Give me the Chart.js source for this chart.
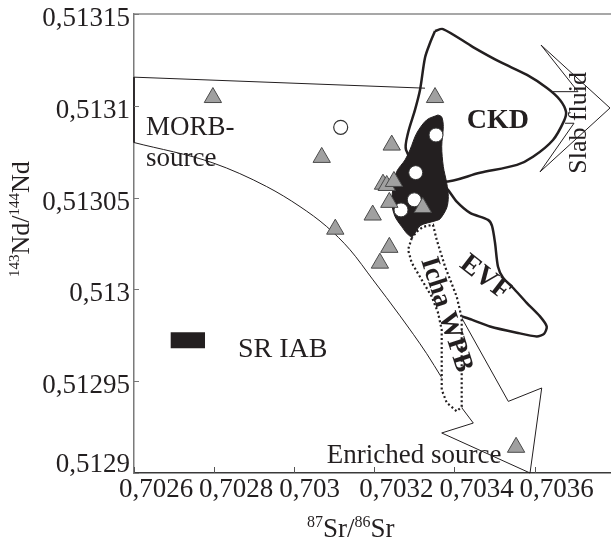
<!DOCTYPE html>
<html lang="en">
<head>
  <meta charset="UTF-8" />
  <title>Sr-Nd isotope diagram</title>
  <script src="https://cdn.jsdelivr.net/npm/chart.js"></script>
  <style>
    html, body { margin: 0; padding: 0; background: #fff; overflow: hidden; }
    #wrap { position: relative; width: 611px; height: 549px; }
  </style>
</head>
<body>
  <div id="wrap"><canvas id="chart"></canvas></div>

  <script>
    // axis ticks
    const xTicks = [0.7026, 0.7028, 0.7030, 0.7032, 0.7034, 0.7036];
    const xTickLabels = ['0,7026', '0,7028', '0,703', '0,7032', '0,7034', '0,7036'];
    const yTicks = [0.51290, 0.51295, 0.51300, 0.51305, 0.51310, 0.51315];
    const yTickLabels = ['0,5129', '0,51295', '0,513', '0,51305', '0,5131', '0,51315'];

    // samples (grey triangles)
    const triSr = [0.702797, 0.7033516, 0.7030687, 0.7032435, 0.7032217, 0.703231, 0.703249,
                   0.7032375, 0.703196, 0.703321, 0.7031026, 0.7032375, 0.703214, 0.703554];
    const triNd = [0.5131045, 0.5131045, 0.5130719, 0.5130786, 0.5130573, 0.5130566, 0.5130588,
                   0.5130474, 0.5130405, 0.5130446, 0.5130328, 0.5130229, 0.5130143, 0.512914];
    // open circle
    const openSr = [0.7031161];
    const openNd = [0.5130883];
    // white circles inside SR IAB field
    const whiteSr = [0.703354, 0.7033034, 0.7032999, 0.7032667];
    const whiteNd = [0.5130841, 0.5130636, 0.5130488, 0.5130433];

    // fields and arrows, [Sr, Nd]
    const morbTop = [[0.7033266, 0.5131096], [0.7026, 0.5131156], [0.7026, 0.51308]];
    const morbCurve = [[0.7026, 0.51308], [0.702797, 0.5130689], [0.7029313, 0.513056], [0.7030145, 0.5130451],
                       [0.7030812, 0.5130342], [0.7031393, 0.5130216], [0.7031968, 0.5130052],
                       [0.7032642, 0.5129856], [0.7033308, 0.512965], [0.7033683, 0.5129519]];
    const enrichedArrow = [[0.7034182, 0.5129356], [0.7034472, 0.5129272], [0.7033683, 0.5129218],
                           [0.7035888, 0.51290], [0.703618, 0.5129463], [0.7035346, 0.512939],
                           [0.7034182, 0.5129845]];
    const slabArrow = [[0.703643, 0.5131077], [0.7037086, 0.5131077], [0.7036162, 0.5131331],
                       [0.7037885, 0.5130988], [0.7036137, 0.513064], [0.7036986, 0.5130905],
                       [0.7036762, 0.5130905]];
    const ckdField = [[0.7033516, 0.5131407], [0.7033715, 0.5131418], [0.7034465, 0.513132], [0.7035139, 0.5131239],
                      [0.7035813, 0.5131168], [0.7036312, 0.5131097], [0.7036637, 0.5131032], [0.7036787, 0.5130967],
                      [0.7036737, 0.5130918], [0.7036462, 0.5130814], [0.7035963, 0.5130722], [0.7035563, 0.5130678],
                      [0.7034639, 0.5130635], [0.7033715, 0.5130586], [0.7033141, 0.5130651], [0.7032792, 0.513076],
                      [0.7032842, 0.5130852], [0.7033016, 0.5130978], [0.7033141, 0.5131086], [0.7033266, 0.5131262],
                      [0.7033391, 0.5131342], [0.7033516, 0.5131407]];
    const evfField = [[0.7033683, 0.5130579], [0.703384, 0.5130542], [0.7034057, 0.5130478], [0.703439, 0.5130417],
                      [0.7034839, 0.5130379], [0.7034939, 0.5130346], [0.7035014, 0.5130254], [0.7035089, 0.5130123],
                      [0.7035214, 0.5130063], [0.7035463, 0.5130009], [0.7035805, 0.5129927], [0.7036137, 0.5129853],
                      [0.7036305, 0.5129798], [0.7036237, 0.5129758], [0.7036055, 0.5129744], [0.7035556, 0.5129764],
                      [0.7034889, 0.5129798], [0.7034432, 0.5129835], [0.7034182, 0.5129853]];
    const ichaField = [[0.7032934, 0.5130279], [0.7032842, 0.5130216], [0.7032934, 0.5130145], [0.7033184, 0.5130052],
                       [0.7033433, 0.5129961], [0.7033591, 0.5129873], [0.7033683, 0.512978], [0.7033683, 0.5129454],
                       [0.7033808, 0.5129383], [0.7034057, 0.5129336], [0.7034182, 0.5129361], [0.7034182, 0.5129562],
                       [0.7034182, 0.5129845], [0.7034057, 0.5129961], [0.7033765, 0.5130125], [0.7033558, 0.513027],
                       [0.7033466, 0.5130352], [0.7033216, 0.5130341], [0.7033059, 0.5130315], [0.7032934, 0.5130279]];
    const srIabField = [[0.7033591, 0.513095], [0.7033308, 0.5130923], [0.7033059, 0.5130851], [0.7032891, 0.513076],
                        [0.7032767, 0.5130705], [0.7032559, 0.5130642], [0.7032474, 0.513056], [0.7032435, 0.513047],
                        [0.7032517, 0.5130397], [0.7032684, 0.5130342], [0.7032849, 0.5130297], [0.7032974, 0.5130286],
                        [0.7033141, 0.5130346], [0.7033516, 0.5130373], [0.7033641, 0.5130384], [0.7033808, 0.5130444],
                        [0.7033848, 0.5130506], [0.7033808, 0.5130579], [0.7033723, 0.5130669], [0.7033683, 0.5130778],
                        [0.7033723, 0.5130887], [0.7033683, 0.5130939], [0.7033591, 0.513095]];

    const ink = '#231f20';
    const serif = "'Liberation Serif', 'Times New Roman', serif";

    // labels placed in data space
    const notes = [
      { text: 'MORB-', sr: 0.70263, nd: 0.5130841, font: '27px ' + serif },
      { text: 'source', sr: 0.70263, nd: 0.5130673, font: '27px ' + serif },
      { text: 'CKD', sr: 0.7034307, nd: 0.5130878, font: 'bold 28px ' + serif },
      { text: 'Slab fluid', sr: 0.7037111, nd: 0.5130907, font: '26px ' + serif, align: 'center', base: 'middle', angle: -90 },
      { text: 'EVF', sr: 0.7034764, nd: 0.5130063, font: 'bold 28px ' + serif, align: 'center', base: 'middle', angle: 38 },
      { text: 'Icha WPB', sr: 0.703379, nd: 0.5129862, font: 'bold 27px ' + serif, align: 'center', base: 'middle', angle: 72 },
      { text: 'SR IAB', sr: 0.7028597, nd: 0.5129633, font: '28px ' + serif },
      { text: 'Enriched source', sr: 0.7030812, nd: 0.5129055, font: '27px ' + serif }
    ];

    const toXY = pts => pts.map(([x, y]) => ({ x, y }));
    const zip = (xs, ys) => xs.map((x, i) => ({ x, y: ys[i] }));

    function path(pts, extra) {
      return Object.assign({
        data: toXY(pts), showLine: true, pointRadius: 0, borderColor: ink, borderWidth: 1,
        fill: false, tension: 0, clip: 4, order: 5
      }, extra);
    }

    const decor = {
      id: 'decor',
      afterDatasetsDraw(chart) {
        const { ctx, scales: { x, y } } = chart;
        ctx.save();
        ctx.fillStyle = ink;
        notes.forEach(n => {
          ctx.save();
          ctx.translate(x.getPixelForValue(n.sr), y.getPixelForValue(n.nd));
          if (n.angle) ctx.rotate(n.angle * Math.PI / 180);
          ctx.font = n.font;
          ctx.textAlign = n.align || 'left';
          ctx.textBaseline = n.base || 'alphabetic';
          ctx.fillText(n.text, 0, 0);
          ctx.restore();
        });
        // legend swatch for SR IAB
        const x1 = x.getPixelForValue(0.7026916), x2 = x.getPixelForValue(0.7027773);
        const yc = y.getPixelForValue(0.5129723);
        ctx.fillRect(x1, yc - 8, x2 - x1, 16);
        ctx.restore();
      },
      afterDraw(chart) {
        const { ctx, chartArea: a, scales: { x, y } } = chart;
        ctx.save();
        // top frame line
        ctx.strokeStyle = '#8a8a8a';
        ctx.lineWidth = 1.5;
        ctx.beginPath();
        ctx.moveTo(a.left, a.top);
        ctx.lineTo(a.right, a.top);
        ctx.stroke();
        // inner tick marks
        ctx.lineWidth = 1;
        ctx.strokeStyle = '#555';
        xTicks.forEach(v => {
          const px = Math.round(x.getPixelForValue(v)) + 0.5;
          ctx.beginPath(); ctx.moveTo(px, a.bottom); ctx.lineTo(px, a.bottom - 6); ctx.stroke();
        });
        ctx.strokeStyle = '#777';
        yTicks.forEach(v => {
          const py = Math.round(y.getPixelForValue(v)) + 0.5;
          ctx.beginPath(); ctx.moveTo(a.left, py); ctx.lineTo(a.left + 5, py); ctx.stroke();
        });
        // axis titles with superscripts
        ctx.fillStyle = ink;
        ctx.textBaseline = 'alphabetic';
        ctx.textAlign = 'left';
        const parts = list => {
          let pos = 0;
          list.forEach(([t, size, up]) => {
            ctx.font = size + 'px ' + serif;
            ctx.fillText(t, pos, -up);
            pos += ctx.measureText(t).width;
          });
        };
        ctx.save();
        ctx.translate(a.left + 173, 537);
        parts([['87', 16, 10], ['Sr/', 27, 0], ['86', 16, 10], ['Sr', 27, 0]]);
        ctx.restore();
        ctx.save();
        ctx.translate(29, 277);
        ctx.rotate(-Math.PI / 2);
        parts([['143', 15, 10], ['Nd/', 26, 0], ['144', 15, 10], ['Nd', 26, 0]]);
        ctx.restore();
        ctx.restore();
      }
    };

    new Chart(document.getElementById('chart'), {
      type: 'scatter',
      data: {
        datasets: [
          {
            label: 'triangles', data: zip(triSr, triNd), pointStyle: 'triangle', pointRadius: 10,
            backgroundColor: '#a0a0a0', borderColor: '#4a4a4a', borderWidth: 1, order: 0
          },
          {
            label: 'open circle', data: zip(openSr, openNd), pointStyle: 'circle', pointRadius: 7,
            backgroundColor: '#fff', borderColor: '#333', borderWidth: 1.2, order: 0
          },
          {
            label: 'white circles', data: zip(whiteSr, whiteNd), pointStyle: 'circle', pointRadius: 7,
            backgroundColor: '#fff', borderColor: '#333', borderWidth: 1, order: 0
          },
          path(ichaField, { fill: 'shape', backgroundColor: '#fff', borderWidth: 2.2, borderDash: [2, 2.5], order: 2 }),
          path(evfField, { borderWidth: 2.5, tension: 0.25, order: 2 }),
          path(srIabField, { fill: 'shape', backgroundColor: ink, borderWidth: 1, tension: 0.3, order: 3 }),
          path(ckdField, { borderWidth: 2.5, tension: 0.3, order: 4 }),
          path(morbTop),
          path(morbCurve, { cubicInterpolationMode: 'monotone' }),
          path(enrichedArrow),
          path(slabArrow)
        ]
      },
      options: {
        responsive: true,
        maintainAspectRatio: false,
        animation: false,
        events: [],
        layout: { autoPadding: false, padding: { top: 14, left: 0, right: 0, bottom: 0 } },
        plugins: { legend: { display: false }, tooltip: { enabled: false } },
        scales: {
          x: {
            type: 'linear', min: 0.7026, max: 0.703791,
            afterBuildTicks: s => { s.ticks = xTicks.map(v => ({ value: v })); },
            afterFit: s => { s.height = 76; s.paddingLeft = 0; s.paddingRight = 0; },
            grid: { display: false, drawTicks: false },
            border: { display: true, color: '#3a3a3a', width: 1.5 },
            ticks: {
              autoSkip: false, maxRotation: 0, minRotation: 0, align: 'start', labelOffset: -15, padding: 3,
              color: ink, font: { family: serif, size: 27, lineHeight: 1 },
              callback: (v, i) => xTickLabels[i]
            }
          },
          y: {
            type: 'linear', min: 0.5129, max: 0.51315,
            afterBuildTicks: s => { s.ticks = yTicks.map(v => ({ value: v })); },
            afterFit: s => { s.width = 134; s.paddingTop = 0; s.paddingBottom = 0; },
            grid: { display: false, drawTicks: false },
            border: { display: true, color: '#7a7a7a', width: 1.5 },
            ticks: {
              autoSkip: false, padding: 4, labelOffset: 5,
              color: ink, font: { family: serif, size: 27, lineHeight: 1 },
              callback: (v, i) => i === 0 ? [yTickLabels[0], ''] : yTickLabels[i]
            }
          }
        }
      },
      plugins: [decor]
    });
  </script>
</body>
</html>
